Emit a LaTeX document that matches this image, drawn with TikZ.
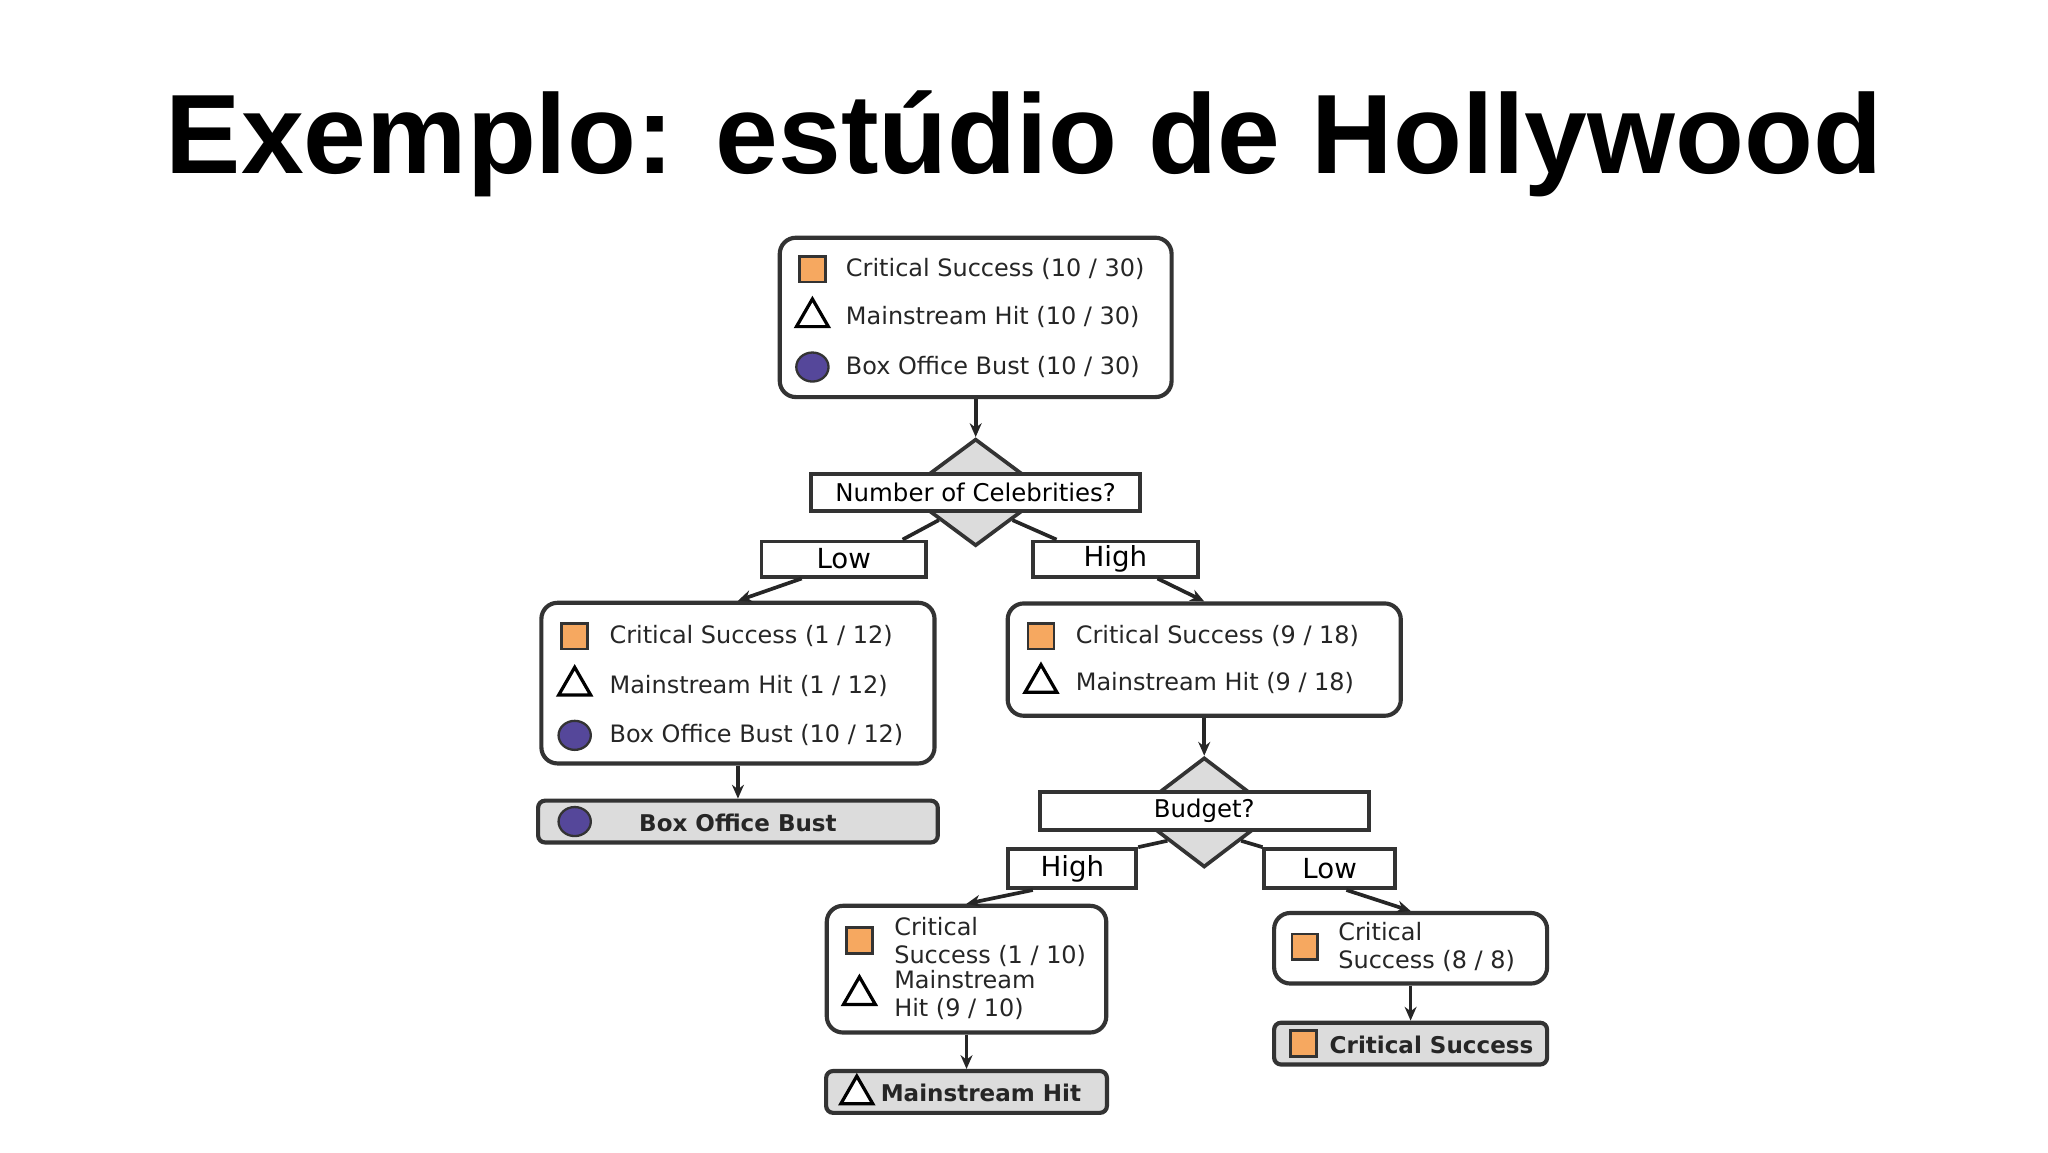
\documentclass[tikz,border=0pt]{standalone}
\usepackage{fontspec}
\setmainfont{Liberation Sans}
\newfontfamily\dvs{DejaVu Sans}
\usetikzlibrary{shapes.geometric,calc,arrows.meta}
\def\u{0.2835pt}
\definecolor{orng}{HTML}{F6A860}
\definecolor{purp}{HTML}{55479A}
\definecolor{gry}{HTML}{DCDCDC}
\tikzset{
 box/.style={draw=black!80,line width=0.9pt,rounded corners=3.5pt,fill=white,inner sep=0},
 leaf/.style={draw=black!80,line width=0.9pt,rounded corners=1.5pt,fill=gry,inner sep=0},
 lab/.style={draw=black!80,line width=0.8pt,fill=white,inner sep=0,font=\dvs\fontsize{6}{7}\selectfont},
 dia/.style={diamond,draw=black!80,line width=0.8pt,fill=gry,inner sep=0},
 txt/.style={anchor=west,inner sep=0,font=\dvs\fontsize{5.2}{6.1}\selectfont,text=black!85,align=left},
 btxt/.style={inner sep=0,font=\dvs\bfseries\fontsize{5}{7}\selectfont,text=black!85},
 sq/.style={draw=black!80,line width=0.6pt,fill=orng,minimum size=5.6pt,inner sep=0},
 tri/.style={regular polygon,regular polygon sides=3,draw=black,line width=0.7pt,fill=white,minimum size=8pt,inner sep=0},
 circ/.style={ellipse,draw=black!80,line width=0.5pt,fill=purp,minimum width=7pt,minimum height=6.3pt,inner sep=0},
 con/.style={line width=0.8pt,black!85},
 arr/.style={con,-{Stealth[length=3pt,width=2.6pt]}},
}
\begin{document}
\begin{tikzpicture}[x=\u,y=-\u]
\useasboundingbox (0,0) rectangle (1568,882);
\node[font=\bfseries\fontsize{24.5}{28}\selectfont] (title) at (784,110) {Exemplo: estúdio de Hollywood};
% root
\node[box,minimum width=300*\u,minimum height=122*\u] (root) at (747,243) {};
\node[sq] (r1) at (622,206) {}; \node[txt] (r1t) at (647,206) {Critical Success (10 / 30)};
\node[tri] (r2) at (622,243) {}; \node[txt] (r2t) at (647,243) {Mainstream Hit (10 / 30)};
\node[circ] (r3) at (622,281) {}; \node[txt] (r3t) at (647,281) {Box Office Bust (10 / 30)};
% diamond 1
\node[dia,minimum width=110*\u,minimum height=82*\u] (d1) at (747,377) {};
\node[lab,minimum width=252*\u,minimum height=28*\u,font=\dvs\fontsize{5.3}{6}\selectfont] (q1) at (747,377) {Number of Celebrities?};
\draw[arr] (root.south) -- (d1.north);
\node[lab,minimum width=126*\u,minimum height=27*\u] (low1) at (646,428) {Low};
\node[lab,minimum width=126*\u,minimum height=27*\u] (high1) at (854,428) {High};
\draw[con] (d1.south west) -- ($(low1.north)!0.7!(low1.north east)$);
\draw[con] (d1.south east) -- ($(high1.north)!0.7!(high1.north west)$);
% left child
\node[box,minimum width=301*\u,minimum height=123*\u] (lc) at (565,523) {};
\node[sq] (l1) at (440,487) {}; \node[txt] (l1t) at (466,487) {Critical Success (1 / 12)};
\node[tri] (l2) at (440,525) {}; \node[txt] (l2t) at (466,525) {Mainstream Hit (1 / 12)};
\node[circ] (l3) at (440,563) {}; \node[txt] (l3t) at (466,563) {Box Office Bust (10 / 12)};
\draw[arr] ($(low1.south)!0.5!(low1.south west)$) -- (lc.north);
\node[leaf,minimum width=306*\u,minimum height=32*\u] (lleaf) at (565,629) {};
\node[circ] (lli) at (440,629) {}; \node[btxt] (llt) at (565,630) {Box Office Bust};
\draw[arr] (lc.south) -- (lleaf.north);
% right child
\node[box,minimum width=301*\u,minimum height=86*\u] (rc) at (922,505) {};
\node[sq] (c1) at (797,487) {}; \node[txt] (c1t) at (823,487) {Critical Success (9 / 18)};
\node[tri] (c2) at (797,523) {}; \node[txt] (c2t) at (823,523) {Mainstream Hit (9 / 18)};
\draw[arr] ($(high1.south)!0.5!(high1.south east)$) -- (rc.north);
% diamond 2
\node[dia,minimum width=110*\u,minimum height=84*\u] (d2) at (922,622) {};
\node[lab,minimum width=252*\u,minimum height=29*\u,font=\dvs\fontsize{5.3}{6}\selectfont] (q2) at (922,621) {Budget?};
\draw[arr] (rc.south) -- (d2.north);
\node[lab,minimum width=98*\u,minimum height=30*\u] (high2) at (821,665) {High};
\node[lab,minimum width=100*\u,minimum height=30*\u] (low2) at (1018,665) {Low};
\draw[con] (d2.south west) -- (high2.north east);
\draw[con] (d2.south east) -- (low2.north west);
% HH child
\node[box,minimum width=214*\u,minimum height=97*\u] (hh) at (740,742) {};
\node[sq] (h1) at (658,720) {}; \node[txt] (h1t) at (684,721) {Critical\\Success (1 / 10)};
\node[tri] (h2) at (658,762) {}; \node[txt] (h2t) at (684,762) {Mainstream\\Hit (9 / 10)};
\draw[arr] ($(high2.south)!0.6!(high2.south west)$) -- (hh.north);
\node[leaf,minimum width=215*\u,minimum height=32*\u] (hleaf) at (740,836) {};
\node[tri] (hli) at (656,838) {}; \node[btxt] (hlt) at (751,837) {Mainstream Hit};
\draw[arr] (hh.south) -- (hleaf.north);
% BL child
\node[box,minimum width=209*\u,minimum height=54*\u] (bl) at (1080,726) {};
\node[sq] (b1) at (999,725) {}; \node[txt] (b1t) at (1024,725) {Critical\\Success (8 / 8)};
\draw[arr] ($(low2.south)!0.25!(low2.south east)$) -- (bl.north);
\node[leaf,minimum width=209*\u,minimum height=32*\u] (bleaf) at (1080,799) {};
\node[sq] (bli) at (998,799) {}; \node[btxt] (blt) at (1096,800) {Critical Success};
\draw[arr] (bl.south) -- (bleaf.north);
\end{tikzpicture}
\end{document}
